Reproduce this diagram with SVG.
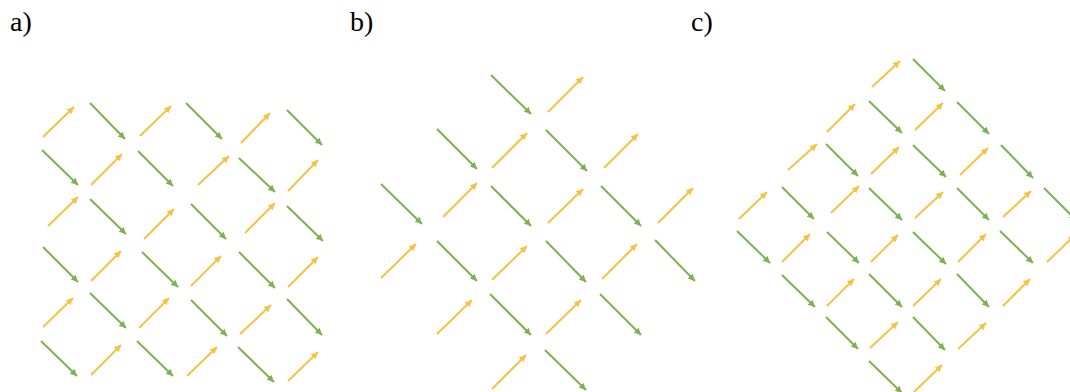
<svg xmlns="http://www.w3.org/2000/svg" width="1070" height="392" viewBox="0 0 1070 392">
<defs>
<marker id="hy" markerUnits="userSpaceOnUse" markerWidth="8" markerHeight="8" refX="7" refY="3.5" orient="auto"><path d="M0,0 L7,3.5 L0,7 z" fill="#f5c244"/></marker>
<marker id="hg" markerUnits="userSpaceOnUse" markerWidth="8" markerHeight="8" refX="7" refY="3.5" orient="auto"><path d="M0,0 L7,3.5 L0,7 z" fill="#7db253"/></marker>
</defs>
<style>
.y{stroke:#f5c244;stroke-width:2;fill:none;marker-end:url(#hy)}
.g{stroke:#7db253;stroke-width:2;fill:none;marker-end:url(#hg)}
.lbl{font-family:"Liberation Serif","Times New Roman",serif;font-size:28px;fill:#000}
</style>
<rect width="1070" height="392" fill="#fff"/>
<g id="labels">
<text class="lbl" x="10" y="31">a)</text>
<text class="lbl" x="350" y="31">b)</text>
<text class="lbl" x="691" y="31">c)</text>
</g>
<g id="panel-a">
<line class="y" x1="43" y1="137" x2="74" y2="107"/><line class="y" x1="140" y1="136" x2="171" y2="106"/><line class="y" x1="241" y1="143" x2="270" y2="113"/>
<line class="g" x1="90" y1="103" x2="125" y2="139"/><line class="g" x1="186" y1="103" x2="222" y2="139"/><line class="g" x1="287" y1="110" x2="322" y2="145"/>
<line class="g" x1="42" y1="150" x2="78" y2="185"/><line class="g" x1="138" y1="151" x2="173" y2="186"/><line class="g" x1="239" y1="158" x2="275" y2="192"/>
<line class="y" x1="91" y1="185" x2="122" y2="154"/><line class="y" x1="198" y1="185" x2="229" y2="156"/><line class="y" x1="288" y1="191" x2="318" y2="160"/>
<line class="y" x1="48" y1="226" x2="78" y2="197"/><line class="y" x1="144" y1="239" x2="174" y2="209"/><line class="y" x1="245" y1="233" x2="275" y2="203"/>
<line class="g" x1="90" y1="199" x2="126" y2="234"/><line class="g" x1="191" y1="204" x2="226" y2="239"/><line class="g" x1="287" y1="206" x2="323" y2="241"/>
<line class="g" x1="43" y1="247" x2="78" y2="282"/><line class="g" x1="142" y1="252" x2="178" y2="287"/><line class="g" x1="239" y1="252" x2="275" y2="288"/>
<line class="y" x1="91" y1="281" x2="121" y2="251"/><line class="y" x1="191" y1="286" x2="221" y2="256"/><line class="y" x1="288" y1="287" x2="318" y2="257"/>
<line class="y" x1="43" y1="327" x2="73" y2="298"/><line class="y" x1="139" y1="328" x2="169" y2="298"/><line class="y" x1="240" y1="334" x2="271" y2="305"/>
<line class="g" x1="90" y1="293" x2="126" y2="328"/><line class="g" x1="191" y1="300" x2="227" y2="336"/><line class="g" x1="287" y1="299" x2="322" y2="335"/>
<line class="g" x1="41" y1="341" x2="77" y2="376"/><line class="g" x1="137" y1="341" x2="173" y2="376"/><line class="g" x1="238" y1="347" x2="274" y2="382"/>
<line class="y" x1="91" y1="375" x2="121" y2="345"/><line class="y" x1="187" y1="376" x2="217" y2="347"/><line class="y" x1="288" y1="381" x2="318" y2="352"/>
</g>
<g id="panel-b">
<line class="g" x1="491" y1="75" x2="531" y2="114"/><line class="y" x1="548" y1="112" x2="583" y2="77"/>
<line class="g" x1="437" y1="129" x2="477" y2="169"/><line class="y" x1="492" y1="168" x2="527" y2="133"/><line class="g" x1="546" y1="130" x2="587" y2="171"/><line class="y" x1="604" y1="168" x2="638" y2="134"/>
<line class="g" x1="381" y1="184" x2="422" y2="224"/><line class="y" x1="443" y1="217" x2="477" y2="183"/><line class="g" x1="491" y1="186" x2="531" y2="226"/><line class="y" x1="548" y1="223" x2="583" y2="189"/><line class="g" x1="601" y1="186" x2="641" y2="226"/><line class="y" x1="658" y1="223" x2="693" y2="188"/>
<line class="y" x1="381" y1="278" x2="416" y2="244"/><line class="g" x1="437" y1="241" x2="477" y2="281"/><line class="y" x1="492" y1="280" x2="527" y2="246"/><line class="g" x1="546" y1="241" x2="586" y2="282"/><line class="y" x1="602" y1="279" x2="637" y2="244"/><line class="g" x1="655" y1="240" x2="695" y2="281"/>
<line class="y" x1="437" y1="334" x2="472" y2="300"/><line class="g" x1="490" y1="294" x2="531" y2="335"/><line class="y" x1="546" y1="334" x2="581" y2="300"/><line class="g" x1="600" y1="294" x2="641" y2="335"/>
<line class="y" x1="492" y1="389" x2="526" y2="355"/><line class="g" x1="545" y1="350" x2="586" y2="390"/>
</g>
<g id="panel-c">
<line class="y" x1="872" y1="87" x2="900" y2="61"/><line class="g" x1="913" y1="59" x2="945" y2="91"/>
<line class="y" x1="827" y1="132" x2="855" y2="104"/><line class="g" x1="869" y1="101" x2="902" y2="133"/><line class="y" x1="915" y1="130" x2="943" y2="103"/><line class="g" x1="957" y1="102" x2="989" y2="134"/>
<line class="y" x1="788" y1="170" x2="817" y2="144"/><line class="g" x1="826" y1="144" x2="858" y2="176"/><line class="y" x1="871" y1="174" x2="899" y2="147"/><line class="g" x1="913" y1="145" x2="946" y2="177"/><line class="y" x1="960" y1="175" x2="988" y2="148"/><line class="g" x1="1001" y1="145" x2="1033" y2="178"/>
<line class="y" x1="739" y1="219" x2="767" y2="192"/><line class="g" x1="782" y1="187" x2="814" y2="219"/><line class="y" x1="831" y1="213" x2="859" y2="186"/><line class="g" x1="869" y1="188" x2="902" y2="220"/><line class="y" x1="915" y1="218" x2="943" y2="192"/><line class="g" x1="957" y1="188" x2="989" y2="220"/><line class="y" x1="1003" y1="217" x2="1031" y2="191"/><line class="g" x1="1044" y1="188" x2="1076" y2="220"/>
<line class="g" x1="737" y1="231" x2="770" y2="263"/><line class="y" x1="782" y1="262" x2="810" y2="234"/><line class="g" x1="827" y1="232" x2="859" y2="263"/><line class="y" x1="871" y1="262" x2="898" y2="235"/><line class="g" x1="913" y1="232" x2="946" y2="264"/><line class="y" x1="958" y1="262" x2="986" y2="234"/><line class="g" x1="1000" y1="231" x2="1033" y2="263"/><line class="y" x1="1047" y1="262" x2="1075" y2="235"/>
<line class="g" x1="782" y1="275" x2="815" y2="307"/><line class="y" x1="827" y1="306" x2="854" y2="279"/><line class="g" x1="869" y1="274" x2="902" y2="307"/><line class="y" x1="913" y1="306" x2="941" y2="279"/><line class="g" x1="957" y1="274" x2="989" y2="307"/><line class="y" x1="1003" y1="306" x2="1030" y2="279"/>
<line class="g" x1="826" y1="317" x2="858" y2="349"/><line class="y" x1="870" y1="348" x2="898" y2="322"/><line class="g" x1="913" y1="317" x2="945" y2="350"/><line class="y" x1="958" y1="349" x2="986" y2="323"/>
<line class="g" x1="869" y1="361" x2="902" y2="393"/><line class="y" x1="914" y1="392" x2="942" y2="365"/>
</g>
</svg>
